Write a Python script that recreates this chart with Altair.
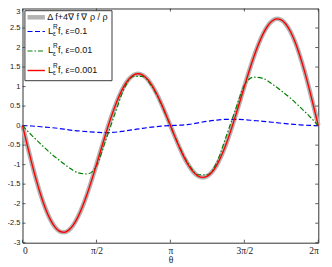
import altair as alt
import pandas as pd

# ---- data (θ expressed as multiples of π) ----
theta_fine = [k / 32 for k in range(65)]
exact_vals = [0, -0.488, -0.961, -1.402, -1.797, -2.134, -2.403, -2.596, -2.707, -2.735,
              -2.679, -2.545, -2.338, -2.068, -1.746, -1.385, -1.0, -0.605, -0.216, 0.154,
              0.490, 0.781, 1.017, 1.189, 1.293, 1.327, 1.292, 1.192, 1.031, 0.821,
              0.570, 0.292, 0, -0.292, -0.570, -0.821, -1.031, -1.192, -1.292, -1.327,
              -1.293, -1.189, -1.017, -0.781, -0.490, -0.154, 0.216, 0.605, 1.0, 1.385,
              1.746, 2.068, 2.338, 2.545, 2.679, 2.735, 2.707, 2.596, 2.403, 2.134,
              1.797, 1.402, 0.961, 0.488, 0]
red_vals = [0, -0.488, -0.961, -1.402, -1.797, -2.134, -2.403, -2.596, -2.707, -2.735,
            -2.679, -2.545, -2.338, -2.068, -1.746, -1.385, -1.0, -0.605, -0.216, 0.154,
            0.490, 0.781, 1.017, 1.189, 1.293, 1.327, 1.292, 1.192, 1.031, 0.821,
            0.570, 0.292, 0, -0.292, -0.570, -0.821, -1.031, -1.192, -1.292, -1.327,
            -1.293, -1.189, -1.017, -0.781, -0.490, -0.154, 0.216, 0.605, 1.0, 1.385,
            1.746, 2.068, 2.338, 2.545, 2.679, 2.735, 2.707, 2.596, 2.403, 2.134,
            1.797, 1.402, 0.961, 0.488, 0]
theta_coarse = [k / 16 for k in range(33)]
green_vals = [0, -0.25, -0.48, -0.70, -0.89, -1.07, -1.21, -1.24, -1.03, -0.38,
              0.30, 0.95, 1.26, 1.26, 1.00, 0.55, 0, -0.55, -1.00, -1.26,
              -1.26, -0.95, -0.30, 0.38, 1.03, 1.24, 1.21, 1.07, 0.89, 0.70,
              0.48, 0.25, 0]
blue_vals = [0, -0.01, -0.03, -0.05, -0.075, -0.11, -0.135, -0.155, -0.17, -0.18,
             -0.17, -0.14, -0.105, -0.07, -0.04, -0.015, 0, 0.01, 0.03, 0.07,
             0.11, 0.14, 0.16, 0.16, 0.15, 0.13, 0.11, 0.085, 0.06, 0.04,
             0.02, 0.005, 0]

x_ticks = [0, 0.5, 1, 1.5, 2]
x_tick_labels = ["0", "π/2", "π", "3π/2", "2π"]
y_ticks = [-3, -2.5, -2, -1.5, -1, -0.5, 0, 0.5, 1, 1.5, 2, 2.5]
y_tick_labels = ["-3", "-2.5", "-2", "-1.5", "-1", "-0.5", "0", "0.5", "1", "1.5",
                 "2", "2.5"]
y_top_tick = [3]
y_top_label = ["3"]

legend_labels = ["Δ f+4∇ f ∇ ρ / ρ", "f, ε=0.1", "f, ε=0.01", "f, ε=0.001"]

W, H = 295.8, 234.2

xscale = alt.Scale(domain=[0, 2], nice=False, zero=False)
yscale = alt.Scale(domain=[-3, 3], nice=False, zero=False)

x_expr = ""
for v, lab in zip(x_ticks, x_tick_labels):
    x_expr += f"datum.value == {v} ? '{lab}' : "
x_expr += "''"

xaxis = alt.Axis(values=x_ticks, labelExpr=x_expr, labelFont="Liberation Serif",
                 labelFontSize=9.5, labelPadding=2.5, titleFont="Liberation Serif",
                 titleFontSize=9.5, titleFontWeight="normal", titlePadding=0,
                 labelColor="#222", titleColor="#222")
yaxis = alt.Axis(values=y_ticks, labels=False)

X = alt.X("t:Q", scale=xscale, axis=xaxis, title="θ")
Y = alt.Y("v:Q", scale=yscale, axis=yaxis, title="")


def series(ts, vs):
    return pd.DataFrame({"t": ts, "v": vs})


gray = alt.Chart(series(theta_fine, exact_vals)).mark_line(
    color="#b3b3b3", strokeWidth=4.5, interpolate="monotone").encode(x=X, y=Y)
blue = alt.Chart(series(theta_coarse, blue_vals)).mark_line(
    color="#0000ff", strokeWidth=1.2, strokeDash=[5, 2.5], interpolate="monotone").encode(x=X, y=Y)
green = alt.Chart(series(theta_coarse, green_vals)).mark_line(
    color="#008000", strokeWidth=1.2, strokeDash=[5, 2, 1.5, 2], interpolate="monotone").encode(x=X, y=Y)
red = alt.Chart(series(theta_fine, red_vals)).mark_line(
    color="#ff0000", strokeWidth=1.4, interpolate="monotone").encode(x=X, y=Y)

xt = pd.DataFrame({"t": x_ticks})
yt = pd.DataFrame({"v": y_ticks, "lab": y_tick_labels})
yt_top = pd.DataFrame({"v": y_top_tick, "lab": y_top_label})
tick_style = dict(color="#333", strokeWidth=0.8)
ticks = [
    alt.Chart(xt).mark_rule(**tick_style).encode(x=X, y=alt.value(H), y2=alt.value(H - 3)),
    alt.Chart(xt).mark_rule(**tick_style).encode(x=X, y=alt.value(0), y2=alt.value(3)),
    alt.Chart(yt).mark_rule(**tick_style).encode(y=Y, x=alt.value(0), x2=alt.value(3)),
    alt.Chart(yt).mark_rule(**tick_style).encode(y=Y, x=alt.value(W), x2=alt.value(W - 3)),
]

# y tick labels (the top one sits a little lower so that it stays on the page)
ylab_style = dict(align="right", baseline="middle", font="Liberation Sans",
                  fontSize=7.5, color="#222")
ylabels = [
    alt.Chart(yt).mark_text(dx=-2, **ylab_style).encode(
        y=Y, x=alt.value(0), text="lab:N"),
    alt.Chart(yt_top).mark_text(dx=-2, dy=4.0, **ylab_style).encode(
        y=Y, x=alt.value(0), text="lab:N"),
]

one = pd.DataFrame({"a": [0]})
leg = [
    alt.Chart(one).mark_rect(fill="white", stroke="#3a3a3a", strokeWidth=1).encode(
        x=alt.value(2.4), x2=alt.value(89.5), y=alt.value(2.2), y2=alt.value(72.2)),
]
row_y = [8.8, 23.0, 42.5, 62.0]
row_styles = [
    dict(color="#b3b3b3", strokeWidth=4.5),
    dict(color="#0000ff", strokeWidth=1.2, strokeDash=[5, 2.5]),
    dict(color="#008000", strokeWidth=1.2, strokeDash=[5, 2, 1.5, 2]),
    dict(color="#ff0000", strokeWidth=1.4),
]
font = "Liberation Sans"
for i, (ly, st) in enumerate(zip(row_y, row_styles)):
    leg.append(alt.Chart(one).mark_rule(**st).encode(
        x=alt.value(5.0), x2=alt.value(22.4), y=alt.value(ly)))
    if i == 0:
        leg.append(alt.Chart(one).mark_text(
            text=legend_labels[0], align="left", baseline="alphabetic", font=font,
            fontSize=9, color="#111").encode(x=alt.value(24.7), y=alt.value(ly + 2.8)))
    else:
        leg.append(alt.Chart(one).mark_text(
            text="L", align="left", baseline="alphabetic", font=font, fontSize=9.5,
            color="#111").encode(x=alt.value(25.5), y=alt.value(ly + 2.5)))
        leg.append(alt.Chart(one).mark_text(
            text="R", align="left", baseline="alphabetic", font=font, fontSize=6.5,
            color="#111").encode(x=alt.value(30.4), y=alt.value(ly - 2.8)))
        leg.append(alt.Chart(one).mark_text(
            text="ε", align="left", baseline="alphabetic", font=font, fontSize=6.5,
            color="#111").encode(x=alt.value(30.4), y=alt.value(ly + 4.6)))
        leg.append(alt.Chart(one).mark_text(
            text=legend_labels[i], align="left", baseline="alphabetic", font=font,
            fontSize=9, color="#111").encode(x=alt.value(35.6), y=alt.value(ly + 2.5)))

chart = alt.layer(gray, blue, green, red, *ticks, *ylabels, *leg).properties(
    width=W, height=H, autosize="none",
    padding={"left": 14.5, "top": 0.5, "right": 5.7, "bottom": 22.5},
).configure_view(stroke="#333", strokeWidth=1).configure_axis(
    domain=False, ticks=False, grid=False)

chart.save("out.html", embed_options={"renderer": "svg", "actions": False})
